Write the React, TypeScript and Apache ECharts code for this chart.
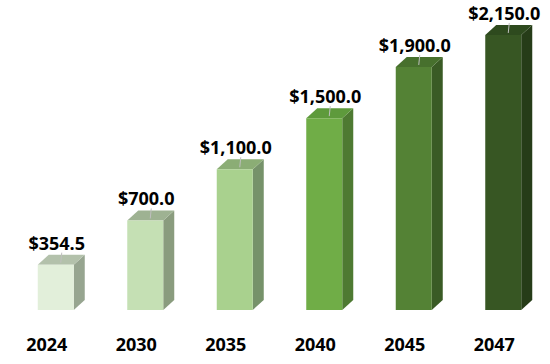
import React, { useEffect, useRef } from "react";
import * as echarts from "echarts";

const categories = ["2024", "2030", "2035", "2040", "2045", "2047"];
const values = [354.5, 700.0, 1100.0, 1500.0, 1900.0, 2150.0];
const frontColors = ["#E2EFDA", "#C5E0B4", "#A9D18E", "#70AD47", "#548235", "#375623"];
const sideColors = ["#97A590", "#8A9C7E", "#76926A", "#4E7A32", "#3A5B25", "#263C18"];
const topColors = ["#B3C1AB", "#9EB292", "#8BAD75", "#5E9A3C", "#47702D", "#2E4A1E"];

const FONT = "'Open Sans', 'Noto Sans', sans-serif";

const fmt = (v: number) =>
  "$" + v.toLocaleString("en-US", { minimumFractionDigits: 1, maximumFractionDigits: 1 });

export default function App() {
  const ref = useRef<HTMLDivElement>(null);
  useEffect(() => {
    if (!ref.current) return;
    const chart = echarts.init(ref.current, null, { renderer: "svg" });
    chart.setOption({
      animation: false,
      backgroundColor: "#ffffff",
      grid: { left: 2, right: 11, top: 3, bottom: 54 },
      xAxis: {
        type: "category",
        data: categories,
        axisLine: { show: false },
        axisTick: { show: false },
        axisLabel: {
          fontFamily: FONT,
          fontWeight: "bold",
          fontSize: 18,
          color: "#000000",
          verticalAlign: "middle",
          margin: 34,
        },
      },
      yAxis: { type: "value", min: 0, max: 2400, show: false, splitLine: { show: false } },
      series: [
        {
          type: "custom",
          clip: false,
          data: values.map((v, i) => [i, v]),
          renderItem: (params: any, api: any) => {
            const i = api.value(0);
            const v = api.value(1);
            const top = api.coord([i, v]);
            const base = api.coord([i, 0]);
            const cx = top[0];
            const y = top[1];
            const b = base[1];
            const l = cx - 9;
            const r = cx + 27;
            const dx = 11;
            const dy = 10;
            return {
              type: "group",
              children: [
                {
                  type: "polygon",
                  shape: { points: [[r, y], [r + dx, y - dy], [r + dx, b - dy], [r, b]] },
                  style: { fill: sideColors[i] },
                },
                {
                  type: "polygon",
                  shape: { points: [[l, y], [l + dx, y - dy], [r + dx, y - dy], [r, y]] },
                  style: { fill: topColors[i] },
                },
                {
                  type: "rect",
                  shape: { x: l, y: y, width: r - l, height: b - y },
                  style: { fill: frontColors[i] },
                },
                {
                  type: "line",
                  shape: { x1: cx + 15, y1: y - 12, x2: cx + 14, y2: y - 2 },
                  style: { stroke: "#BFBFBF", lineWidth: 1 },
                },
                {
                  type: "text",
                  style: {
                    text: fmt(v),
                    x: cx + 10,
                    y: y - 22,
                    align: "center",
                    verticalAlign: "middle",
                    fontFamily: FONT,
                    fontWeight: "bold",
                    fontSize: 18,
                    fill: "#000000",
                  },
                },
              ],
            };
          },
        },
      ],
    });
    return () => chart.dispose();
  }, []);
  return <div ref={ref} style={{ width: 550, height: 364, position: "absolute", left: 0, top: 0 }} />;
}
